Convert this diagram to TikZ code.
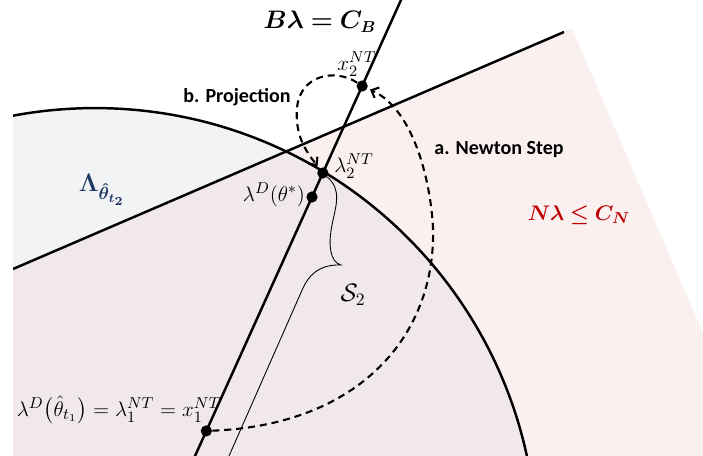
\documentclass[tikz,border=0pt]{standalone}
\usepackage{amsmath,amssymb,bm}
\usepackage{fontspec}
\newfontfamily\stepfont{Carlito}
\usetikzlibrary{arrows.meta,calc}

\definecolor{lamblue}{RGB}{31,56,100}
\definecolor{nred}{RGB}{192,0,0}
\definecolor{fillblue}{RGB}{242,243,245}
\definecolor{fillpink}{RGB}{251,240,240}
\definecolor{fillboth}{RGB}{240,232,233}

\begin{document}
\begin{tikzpicture}[x=0.02cm, y=-0.02cm,
  every node/.style={font=\fontsize{12.4}{14}\selectfont},
  bound/.style={black, line width=1.4pt},
  dot/.style={circle, fill=black, inner sep=0pt, minimum size=6.4pt},
  stepline/.style={line width=1.2pt, dash pattern=on 4pt off 2.8pt,
    shorten >=1.5pt, -{Straight Barb[length=3.5pt,width=6.5pt]}},
  steplabel/.style={font=\stepfont\bfseries\fontsize{11.4}{13}\selectfont}]

\def\rad{8.84cm}

\useasboundingbox (0,0) rectangle (703,456);
\clip (13,0) rectangle (703,456);

% halfspace N lambda <= C_N and the set Lambda
\fill[fillpink] (13,269) -- (572,28.5) -- (703,333) -- (703,456) -- (13,456) -- cycle;
\fill[fillblue] (95,550) circle[radius=\rad];
\begin{scope}
  \clip (13,269) -- (572,28.5) -- (703,333) -- (703,456) -- (13,456) -- cycle;
  \fill[fillboth] (95,550) circle[radius=\rad];
\end{scope}

% boundaries
\draw[bound] (95,550) circle[radius=\rad];
\draw[bound] (13,269) -- (564,32);

% line B lambda = C_B
\coordinate (bTop) at (401,0);
\coordinate (bBot) at (195,456);
\draw[bound] ($(bTop)!-0.02!(bBot)$) -- ($(bTop)!1.02!(bBot)$);

% points on the line
\node[dot] (x2) at ($(bTop)!0.1886!(bBot)$) {};
\node[dot] (l2) at ($(bTop)!0.3794!(bBot)$) {};
\node[dot] (lstar) at ($(bTop)!0.432!(bBot)$) {};
\node[dot] (l1) at ($(bTop)!0.945!(bBot)$) {};

% brace for S_2
\draw[line width=0.5pt] (l2) .. controls (342,190) and (336,205) .. (332,225)
  .. controls (328,245) and (330,262) .. (341,265)
  .. controls (318,264) and (308,277) .. (303,288) -- (229,456);

% a. newton step
\draw[stepline] (l1) .. controls (360,425) and (436,335) .. (433,228)
  .. controls (431,185) and (415,110) .. (x2);

% b. projection
\draw[stepline] (x2) .. controls (335,68) and (300,75) .. (297,108)
  .. controls (295,135) and (305,150) .. (l2);

% labels
\node (bLab) at (320,22) {\fontsize{13.5}{15}\selectfont$\bm{B\lambda = C_B}$};
\node (nLab) at (579,215) {\fontsize{13}{15}\selectfont\color{nred}$\bm{N\lambda \leq C_N}$};
\node (lamLab) at (102,190) {\fontsize{14.5}{16}\selectfont\color{lamblue}$\bm{\Lambda_{\hat{\theta}_{t_2}}}$};
\node[steplabel] (projLab) at (237,97) {b. Projection};
\node[steplabel] (newtLab) at (499,150) {a. Newton Step};
\node (x2Lab) at (357,64) {$x_2^{NT}$};
\node (l2Lab) at (354,166) {$\lambda_2^{NT}$};
\node (lstarLab) at (274,195) {$\lambda^D(\theta^*)$};
\node (sLab) at (353,295) {\fontsize{14}{16}\selectfont$\mathcal{S}_2$};
\node (l1Lab) at (119,410) {$\lambda^D\big(\hat{\theta}_{t_1}\big) = \lambda_1^{NT} = x_1^{NT}$};

\end{tikzpicture}
\end{document}
